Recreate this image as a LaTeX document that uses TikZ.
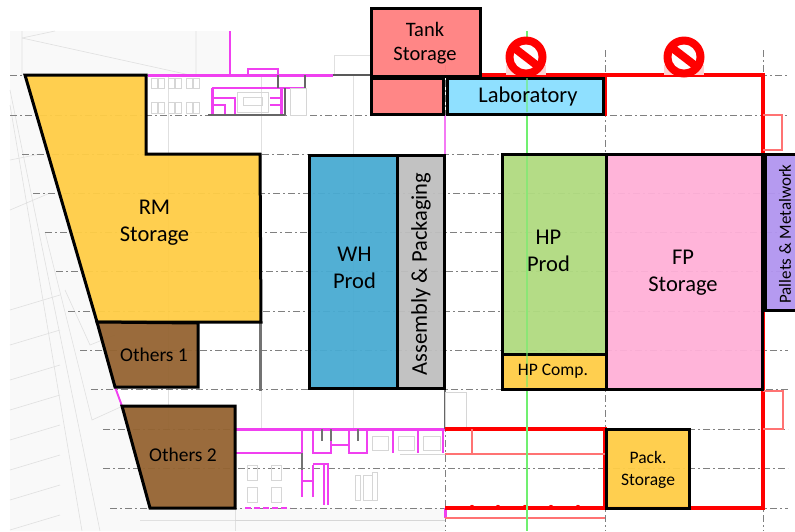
\documentclass[tikz,border=0pt]{standalone}
\usepackage{fontspec}
\setmainfont{Carlito}
\definecolor{cyel}{HTML}{FFCD46}
\definecolor{cbrown}{HTML}{956432}
\definecolor{ctank}{HTML}{FF8080}
\definecolor{clab}{HTML}{8ADFFF}
\definecolor{cblue}{HTML}{49ABD2}
\definecolor{cgray}{HTML}{BFBFBF}
\definecolor{cgreen}{HTML}{B0DB80}
\definecolor{cpink}{HTML}{FFB0D8}
\definecolor{cpurple}{HTML}{B295F0}
\definecolor{cmag}{HTML}{F040F0}
\definecolor{cred}{HTML}{FF0000}
\definecolor{cline}{HTML}{70F070}
\tikzset{
 zone/.style={draw=black,line width=3pt,fill opacity=0.95,line join=miter},
 lab/.style={text=black,align=center,font=\fontsize{22.5}{27}\selectfont,inner sep=0pt},
 labm/.style={text=black,align=center,font=\fontsize{20.5}{24}\selectfont,inner sep=0pt},
 labo/.style={text=black,align=center,font=\fontsize{19.5}{24}\selectfont,inner sep=0pt},
 labs/.style={text=black,align=center,font=\fontsize{17.5}{22}\selectfont,inner sep=0pt},
 griddash/.style={draw=black!50,line width=1pt,dash pattern=on 7pt off 3pt on 2pt off 3pt},
 thin grey/.style={draw=black!12,line width=.6pt},
 wall/.style={draw=cmag,line width=1.9pt},
 wallthick/.style={draw=cmag,line width=3pt},
 redwall/.style={draw=cred,line width=3.8pt},
 redthin/.style={draw=cred!55,line width=1.2pt},
 furn/.style={draw=black!16,line width=.5pt},
}
\begin{document}
\begin{tikzpicture}[x=1pt,y=-1pt]
\useasboundingbox (0,0) rectangle (795,531);
\fill[white] (0,0) rectangle (795,531);
% site background
\fill[black!2.5] (10,31) -- (230,31) -- (230,75) -- (25,75) -- (97,322) -- (122,406) -- (150,508) -- (445,508) -- (445,531) -- (10,531) -- cycle;
% faint plan lines
\draw[thin grey] (22,31) -- (22,75) (196,31) -- (196,75) (22,38) -- (190,75) (22,38) -- (55,31);
\draw[thin grey] (168,75) -- (168,429) (261,75) -- (261,429) (353,75) -- (353,429);
\draw[thin grey] (10,90) -- (100,531) (10,105) -- (82,531) (10,160) -- (40,154) (10,210) -- (50,193);
\foreach \y in {300,335,370,400,430,460,490,520}{\draw[thin grey] (10,\y+10) -- (60,\y-5);}
\draw[thin grey] (65,290) -- (90,345) -- (115,335) (45,232) -- (92,420) -- (125,405);
\draw[thin grey] (140,520) -- (445,520) (235,429) -- (235,531);
\draw[thin grey] (334,55) -- (371,55) (334,55) -- (334,75);
% grid
\foreach \y/\x in {75/10,115/10,154/22,193/33,232/45,271/56,311/68,350/80,389/91,429/103,468/103,508/110}{
 \draw[griddash] (\x,\y) -- (788,\y);}
\foreach \x in {445,605,763}{\draw[griddash] (\x,50) -- (\x,531);}
% upper offices
\draw[wall] (230,31) -- (230,75);
\draw[wallthick] (148,75) -- (333,75);
\draw[draw=black!65,line width=2pt] (333,75) -- (371,75);
\draw[wall] (248,75) -- (248,69) -- (278,69) -- (278,75);
\draw[wall] (212,88) -- (305,88);
\draw[wallthick] (212,88) -- (212,115);
\draw[wall] (213,98) -- (235,98) -- (235,115);
\draw[wall] (213,105) -- (225,105) -- (225,115);
\draw[wall] (270,98) -- (281,98) (270,105) -- (281,105);
\draw[wallthick] (281,88) -- (281,115);
\draw[draw=black!60,line width=1.4pt] (208,115) -- (285,115) (278,75) -- (278,88) (305,75) -- (305,88) (285,88) -- (285,115);
\draw[furn] (237,92) rectangle (268,112) (243,97) rectangle (262,105) (290,88) rectangle (306,115);
\foreach \x in {151,168,186}{
 \draw[furn] (\x,78) rectangle (\x+6,88) (\x+7,78) rectangle (\x+13,88) (\x,102) rectangle (\x+6,113) (\x+7,102) rectangle (\x+13,113);}
% lower offices
\draw[wallthick] (235,429) -- (445,429);
\draw[wall] (235,453) -- (302,453) -- (302,429);
\draw[wall] (313,429) -- (313,453) -- (331,453) -- (331,429) (331,445) -- (349,445) (349,429) -- (349,453) -- (367,453) -- (367,429) (393,429) -- (393,453) (418,429) -- (418,453) (443,429) -- (443,453);
\draw[wall] (302,481) -- (313,481) (302,465) -- (302,497) (313,465) -- (313,497) (313,464) -- (328,464) -- (328,505) (324,465) -- (324,505);
\draw[draw=black!55,line width=1.2pt] (322,429) -- (322,441) (331,429) -- (331,441) (358,429) -- (358,441) (302,453) -- (302,470);
\draw[wall,dash pattern=on 6pt off 3pt] (245,508) -- (290,508);
\draw[wallthick] (445,508) -- (445,518);
\foreach \x/\y in {247/0,271/0}{\draw[furn] (\x,465) rectangle (\x+10,480) (\x,487) rectangle (\x+10,502);}
\draw[furn] (355,475) rectangle (360,500) (363,475) rectangle (372,500) (372,472) rectangle (377,500) (372,436) rectangle (388,450) (398,436) rectangle (414,450) (423,436) rectangle (440,450);
\draw[furn] (235,520) -- (445,520) (445,454) -- (400,454);
% left-hand diagonal magenta
\draw[wall] (115,387) -- (122,406);
\draw[wall] (150,508) -- (235,508);
% grey partitions
\draw[draw=black!55,line width=3pt] (260,322) -- (260,391);
\draw[draw=black!60,line width=1.2pt] (445,389) -- (445,429);
\draw[furn] (445,392) rectangle (466,429);
% red walls
\draw[redwall,line join=miter] (480,75) -- (763,75) -- (763,508) -- (605,508);
\draw[redwall] (605,75) -- (605,116);
\draw[redwall] (445,429) -- (605,429) -- (605,508) -- (445,508);
\draw[redthin] (763,115) -- (782,115) -- (782,150) -- (763,150);
\draw[redthin] (763,391) -- (783,391) -- (783,429) -- (763,429);
\draw[redthin] (472,429) -- (472,454) (445,454) -- (605,454);
\draw[redthin] (445,518) -- (605,518);
\foreach \x in {472,498,525,551,578}{\fill[cred] (\x,507) circle (2.2);}
\draw[draw=cmag!70,line width=2pt] (445,115) -- (445,389);
% green line
\draw[draw=cline,line width=1.6pt] (527,31) -- (527,531);
% no-entry signs
\foreach \x/\n in {526/a,684/b}{
 \fill[cred!18] (\x-20,75) -- (\x-20,65) -- (\x+20,65) -- (\x+20,75) -- cycle;
 \node[circle,fill=cred,minimum size=41pt,inner sep=0pt] (sign\n) at (\x,57) {};
 \fill[white] (\x,57) circle (12.5);
 \draw[draw=cred,line width=8pt] (\x-13,47) -- (\x+13,67);
}
% zones
\path[zone,fill=ctank] (371,8) rectangle (480,76);
\path[zone,fill=ctank] (371,78) rectangle (443,114);
\path[zone,fill=clab] (447,78) rectangle (603,114);
\path[zone,fill=cyel] (25,75) -- (146,75) -- (146,154) -- (260,154) -- (261,322) -- (97,322) -- cycle;
\path[zone,fill=cbrown] (97,322) -- (198,323) -- (198,387) -- (115,387) -- cycle;
\path[zone,fill=cbrown] (122,406) -- (235,406) -- (235,508) -- (150,508) -- cycle;
\path[zone,fill=cblue] (309,155) rectangle (397,388);
\path[zone,fill=cgray] (397,155) rectangle (444,388);
\path[zone,fill=cgreen] (502,154) rectangle (606,354);
\path[zone,fill=cyel] (502,354) rectangle (606,389);
\path[zone,fill=cpink] (606,154) rectangle (762,389);
\path[zone,fill=cpurple] (765,154) -- (798,154) -- (798,310) -- (765,310) -- cycle;
\path[zone,fill=cyel] (606,429) rectangle (689,508);
\draw[draw=cline,line width=1.6pt,opacity=.55] (527,78) -- (527,112) (527,156) -- (527,387);
% labels
\node[labm] (tank) at (425,43) {Tank\\Storage};
\node[lab] (labo) at (528,96.5) {Laboratory};
\node[lab] (rm) at (154.5,222.5) {RM\\Storage};
\node[labo] (o1) at (154,354.5) {Others 1};
\node[labo] (o2) at (183,454.5) {Others 2};
\node[lab] (wh) at (354.5,268) {WH\\Prod};
\node[lab,rotate=90] (ap) at (421,274) {Assembly \& Packaging};
\node[lab] (hp) at (548.5,251) {HP\\Prod};
\node[labs] (hpc) at (553,371.5) {HP Comp.};
\node[lab] (fp) at (683,273) {FP\\Storage};
\node[labs,rotate=90,font=\fontsize{17}{20}\selectfont] (pm) at (785,234) {Pallets \& Metalwork};
\node[labs] (pk) at (648,469.5) {Pack.\\Storage};
\end{tikzpicture}
\end{document}
